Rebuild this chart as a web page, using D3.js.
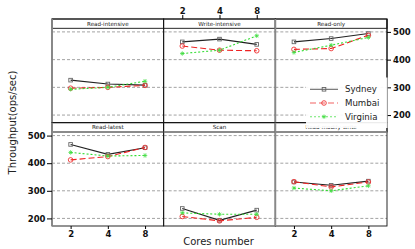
<!DOCTYPE html>
<html><head><meta charset="utf-8">
<script src="https://cdn.jsdelivr.net/npm/d3@7"></script>
<style>body{margin:0;background:#fff}svg{display:block}text{font-family:"DejaVu Sans",sans-serif}</style>
</head><body>
<svg id="c" width="415" height="249"></svg>
<script>
const cores = [2, 4, 8];
const workloads = ["Read-intensive","Write-intensive","Read-only","Read-latest","Scan","Read-modify-write"];
const seriesNames = ["Sydney","Mumbai","Virginia"];
const sydney   = [[326,312,308],[464,474,455],[464,476,494],[468,432,456],[236,193,230],[332,320,335]];
const mumbai   = [[297,300,307],[449,434,432],[437,440,488],[412,424,457],[207,191,204],[333,314,332]];
const virginia = [[293,300,322],[422,434,486],[426,452,480],[439,426,428],[220,215,215],[310,300,318]];
const yTicks = [200, 300, 400, 500];

const svg = d3.select("#c");
const L = 52, R = 387, colW = (R - L) / 3;
const rows = [{top: 19, bottom: 122.7}, {top: 122.7, bottom: 226}];
const stripH = 9.3;
const styles = [
  {color: "#222", dash: null, marker: "square", mstroke: "#666"},
  {color: "#ee2222", dash: "6,3", marker: "circle", mstroke: "#e33"},
  {color: "#33dd33", dash: "2,2", marker: "star", mstroke: "#4d4"}
];
const data = [sydney, mumbai, virginia];

function marker(g, type, x, y, st) {
  if (type === "square") {
    g.append("rect").attr("x", x - 1.8).attr("y", y - 1.8).attr("width", 3.6).attr("height", 3.6)
      .attr("fill", "none").attr("stroke", st.mstroke).attr("stroke-width", 0.9);
  } else if (type === "circle") {
    g.append("circle").attr("cx", x).attr("cy", y).attr("r", 2.3)
      .attr("fill", "none").attr("stroke", st.mstroke).attr("stroke-width", 0.9);
  } else {
    const s = 2.2;
    const p = `M${x-s},${y}L${x+s},${y}M${x},${y-s}L${x},${y+s}M${x-s*0.7},${y-s*0.7}L${x+s*0.7},${y+s*0.7}M${x-s*0.7},${y+s*0.7}L${x+s*0.7},${y-s*0.7}`;
    g.append("path").attr("d", p).attr("stroke", st.mstroke).attr("stroke-width", 0.8).attr("fill", "none");
  }
}

workloads.forEach((w, i) => {
  const r = Math.floor(i / 3), c = i % 3;
  const x0 = L + c * colW, x1 = x0 + colW;
  const row = rows[r];
  const pTop = row.top + stripH, pBot = row.bottom;
  const x = d3.scalePoint().domain(cores).range([x0, x1]).padding(0.5);
  const y = d3.scaleLinear().domain([172.5, 513]).range([pBot, pTop]);
  const g = svg.append("g");
  yTicks.forEach(t => {
    g.append("line").attr("x1", x0).attr("x2", x1).attr("y1", y(t)).attr("y2", y(t))
      .attr("stroke", "#999").attr("stroke-width", 0.9).attr("stroke-dasharray", "3,2");
  });
  data.forEach((sd, k) => {
    const st = styles[k];
    const pts = cores.map((cv, j) => [x(cv), y(sd[i][j])]);
    g.append("path").attr("d", d3.line()(pts)).attr("fill", "none")
      .attr("stroke", st.color).attr("stroke-width", 1.1)
      .attr("stroke-dasharray", st.dash);
    pts.forEach(p => marker(g, st.marker, p[0], p[1], st));
  });
  g.append("rect").attr("x", x0).attr("y", row.top).attr("width", colW).attr("height", stripH)
    .attr("fill", "#fff").attr("stroke", "#111").attr("stroke-width", 0.9);
  g.append("text").attr("x", (x0 + x1) / 2).attr("y", row.top + stripH / 2 + 2)
    .attr("text-anchor", "middle").attr("font-size", 5.6).attr("fill", "#222").text(w);
  g.append("rect").attr("x", x0).attr("y", row.top).attr("width", colW).attr("height", pBot - row.top)
    .attr("fill", "none").attr("stroke", "#111").attr("stroke-width", 0.9);
  if (c === 0 || c === 2) {
    g.append("line").attr("x1", x0).attr("x2", x0).attr("y1", row.top).attr("y2", pBot)
      .attr("stroke", "#888").attr("stroke-width", 1.8);
  }
  if (r === 1) {
    g.append("line").attr("x1", x0).attr("x2", x1).attr("y1", pTop).attr("y2", pTop)
      .attr("stroke", "#888").attr("stroke-width", 1.6);
  }
  const tickFont = g => g.selectAll("text").attr("font-size", 8.5).attr("font-weight", "bold").attr("fill", "#111");
  if (r === 0 && c === 2) {
    const ax = svg.append("g").attr("transform", `translate(${R},0)`)
      .call(d3.axisRight(y).tickValues(yTicks).tickSize(4).tickPadding(2));
    ax.select(".domain").attr("d", `M0,${row.top}V${pBot}`).attr("stroke", "#111");
    tickFont(ax);
  }
  if (r === 1 && c === 0) {
    const ax = svg.append("g").attr("transform", `translate(${L},0)`)
      .call(d3.axisLeft(y).tickValues(yTicks).tickSize(5).tickPadding(1.5));
    ax.select(".domain").remove();
    tickFont(ax);
  }
  if (r === 0 && c === 1) {
    const ax = svg.append("g").attr("transform", `translate(0,${row.top})`)
      .call(d3.axisTop(x).tickSize(4).tickPadding(1.5));
    ax.select(".domain").remove();
    tickFont(ax);
  }
  if (r === 1 && (c === 0 || c === 2)) {
    const ax = svg.append("g").attr("transform", `translate(0,${pBot})`)
      .call(d3.axisBottom(x).tickSize(3).tickPadding(1.5));
    ax.select(".domain").remove();
    tickFont(ax);
  }
});

svg.append("text").attr("x", 218.5).attr("y", 244.5).attr("text-anchor", "middle")
  .attr("font-size", 10).attr("fill", "#222").text("Cores number");
svg.append("text").attr("transform", "translate(15.5,122.5) rotate(-90)").attr("text-anchor", "middle")
  .attr("font-size", 10).attr("fill", "#222").text("Throughput(ops/sec)");

const lg = svg.append("g");
lg.append("rect").attr("x", 306).attr("y", 77.5).attr("width", 81.5).attr("height", 50.5).attr("fill", "#fff").attr("opacity", 0.92);
seriesNames.forEach((n, k) => {
  const st = styles[k];
  const ly = 89.3 + k * 13.7;
  lg.append("line").attr("x1", 310).attr("x2", 338).attr("y1", ly).attr("y2", ly)
    .attr("stroke", k === 0 ? "#666" : st.color).attr("stroke-width", 1.1).attr("stroke-dasharray", st.dash)
    .attr("opacity", k === 0 ? 1 : 0.7);
  marker(lg, st.marker, 324, ly, st);
  lg.append("text").attr("x", 345).attr("y", ly + 3).attr("font-size", 8.6).attr("fill", "#222").text(n);
});
</script>
</body></html>
